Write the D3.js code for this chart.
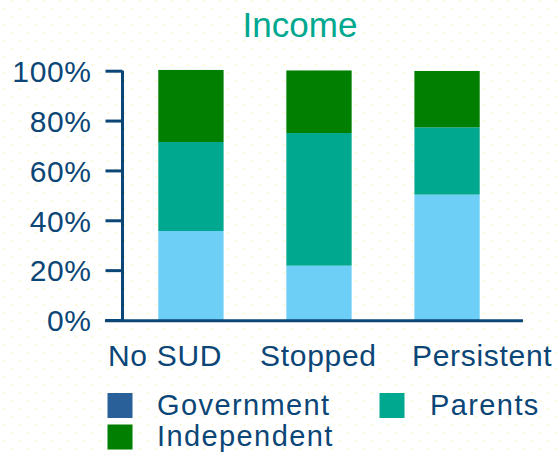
<!DOCTYPE html>
<html>
<head>
<meta charset="utf-8">
<script src="https://cdn.jsdelivr.net/npm/d3@7"></script>
<style>
  html, body { margin: 0; padding: 0; background: #ffffff; }
  svg { display: block; font-family: "Liberation Sans", Arial, sans-serif; }
</style>
</head>
<body>
<svg id="chart" width="557" height="453"></svg>
<script>
// Income source shares (%) by SUD course
const categories = ["No SUD", "Stopped", "Persistent"];
const seriesNames = ["Government", "Parents", "Independent"];
const government = [35.7, 21.8, 50.3];
const parents = [35.7, 53.2, 27.0];
const independent = [28.9, 25.1, 22.6];
const yTicks = [0, 20, 40, 60, 80, 100];

const barColors = ["#6ecff6", "#00a88f", "#007f00"];
const legendColors = ["#2a6099", "#00a88f", "#007f00"];
const navy = "#0b4677";

const rows = categories.map((c, i) => ({
  category: c,
  Government: government[i],
  Parents: parents[i],
  Independent: independent[i]
}));

const svg = d3.select("#chart");

// dotted backdrop
const defs = svg.append("defs");
const pat = defs.append("pattern")
  .attr("id", "dots").attr("patternUnits", "userSpaceOnUse")
  .attr("width", 16).attr("height", 16);
pat.append("circle").attr("cx", 12.5).attr("cy", 1).attr("r", 1).attr("fill", "#fbf6cc");
pat.append("circle").attr("cx", 4.5).attr("cy", 9).attr("r", 1).attr("fill", "#fbf6cc");
svg.append("rect").attr("width", 557).attr("height", 453).attr("fill", "url(#dots)");

const y = d3.scaleLinear().domain([0, 100]).range([320, 70.7]);
const x = d3.scaleBand().domain(categories).range([125, 513]).paddingInner(0.49).paddingOuter(0.26);
const labelX = d3.scalePoint().domain(categories).range([108, 412]);

const stack = d3.stack().keys(seriesNames);
const layers = stack(rows);

svg.append("g").selectAll("g")
  .data(layers)
  .join("g")
  .attr("fill", (d, i) => barColors[i])
  .selectAll("rect")
  .data(d => d)
  .join("rect")
  .attr("x", d => x(d.data.category))
  .attr("width", x.bandwidth())
  .attr("y", d => y(d[1]))
  .attr("height", d => y(d[0]) - y(d[1]));

// y axis
const yAxis = d3.axisLeft(y)
  .tickValues(yTicks)
  .tickSize(17)
  .tickPadding(14)
  .tickFormat(d => d + "%");
const gy = svg.append("g").attr("transform", "translate(122.5,0)").call(yAxis);
gy.select(".domain").attr("stroke", navy).attr("stroke-width", 3).attr("d", "M0,70.7V320");
gy.selectAll(".tick line").attr("stroke", navy).attr("stroke-width", 3);
gy.selectAll(".tick text").attr("fill", navy).attr("font-size", 30)
  .attr("letter-spacing", "0.6px")
  .attr("font-family", "Liberation Sans, Arial, sans-serif").attr("dy", "0.36em");

// x axis baseline
svg.append("line")
  .attr("x1", 105).attr("x2", 523)
  .attr("y1", 320.8).attr("y2", 320.8)
  .attr("stroke", navy).attr("stroke-width", 3);

// category labels
svg.append("g").selectAll("text")
  .data(categories)
  .join("text")
  .attr("x", d => labelX(d))
  .attr("y", 366)
  .attr("fill", navy)
  .attr("font-size", 30)
  .attr("letter-spacing", "0.7px")
  .text(d => d);

// title
svg.append("text")
  .attr("x", 300).attr("y", 36.5)
  .attr("text-anchor", "middle")
  .attr("fill", "#00a88f")
  .attr("font-size", 35)
  .text("Income");

// legend
const legendPos = [[107.5, 393, 157], [379.5, 393, 430], [107.5, 424.5, 157]];
const lg = svg.append("g").selectAll("g")
  .data(seriesNames)
  .join("g");
lg.append("rect")
  .attr("x", (d, i) => legendPos[i][0])
  .attr("y", (d, i) => legendPos[i][1])
  .attr("width", 25).attr("height", 25)
  .attr("fill", (d, i) => legendColors[i]);
lg.append("text")
  .attr("x", (d, i) => legendPos[i][2])
  .attr("y", (d, i) => legendPos[i][1] + 21.5)
  .attr("fill", navy)
  .attr("font-size", 29)
  .attr("letter-spacing", "1.4px")
  .text(d => d);
</script>
</body>
</html>
